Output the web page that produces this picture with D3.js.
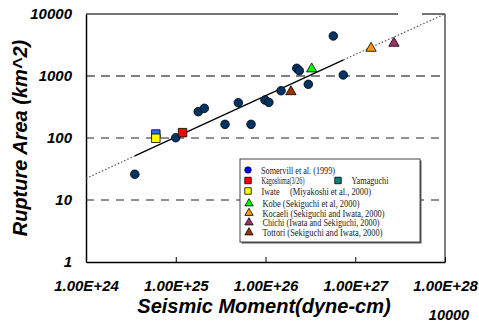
<!DOCTYPE html>
<html>
<head>
<meta charset="utf-8">
<script src="https://cdn.jsdelivr.net/npm/d3@7"></script>
<style>
  body { margin: 0; background: #fff; }
  svg { display: block; }
</style>
</head>
<body>
<div id="wrapper"></div>
<script>
// Somervill et al. (1999) events
const somervillMoment = [3.5e24, 1.0e25, 1.78e25, 2.08e25, 3.54e25, 4.98e25, 6.9e25, 9.87e25,
  1.09e26, 1.49e26, 2.23e26, 2.38e26, 3.0e26, 5.7e26, 7.36e26];
const somervillArea = [26, 101, 266, 301, 166, 371, 166, 410, 376, 579, 1331, 1217, 735, 4420, 1038];

// single events
const eventNames = ["Kagoshima(3/26)", "Yamaguchi", "Iwate\t(Miyakoshi et al., 2000)",
  "Kobe (Sekiguchi et al, 2000)", "Kocaeli (Sekiguchi and Iwata, 2000)",
  "Chichi (Iwata and Sekiguchi, 2000)", "Tottori (Sekiguchi and Iwata, 2000)"];
const eventMoment = [1.19e25, 6.0e24, 6.0e24, 3.27e26, 1.5e27, 2.7e27, 1.92e26];
const eventArea = [122, 116, 99, 1300, 2800, 3370, 558];

// fit line A = 2.23e-15 * M^(2/3)
const fitSolid = [[3.5e24, 51.4], [7.4e26, 1824]];
const fitDotted = [[[1e24, 22.3], [3.5e24, 51.4]], [[7.4e26, 1824], [1e28, 10000]]];

const xTickValues = [1e24, 1e25, 1e26, 1e27, 1e28];
const xTickLabels = ["1.00E+24", "1.00E+25", "1.00E+26", "1.00E+27", "1.00E+28"];
const yTickValues = [1, 10, 100, 1000, 10000];
const yTickLabels = ["1", "10", "100", "1000", "10000"];

const width = 479;
const height = 322;
const plot = { left: 86, right: 445, top: 14, bottom: 262 };

const svg = d3.select("#wrapper")
  .append("svg")
  .attr("width", width)
  .attr("height", height);

const xScale = d3.scaleLog().domain([1e24, 1e28]).range([plot.left, plot.right]);
const yScale = d3.scaleLog().domain([1, 10000]).range([plot.bottom, plot.top]);

// grid
const gridStyle = {
  10: { stroke: "#222", width: 1, dash: "8,7" },
  100: { stroke: "#222", width: 1, dash: "8,7" },
  1000: { stroke: "#808080", width: 2, dash: "9,6" },
};
[10, 100, 1000].forEach(v => {
  svg.append("line")
    .attr("x1", plot.left).attr("x2", plot.right)
    .attr("y1", yScale(v)).attr("y2", yScale(v))
    .attr("stroke", gridStyle[v].stroke)
    .attr("stroke-width", gridStyle[v].width)
    .attr("stroke-dasharray", gridStyle[v].dash);
});
svg.append("line")
  .attr("x1", plot.left).attr("x2", plot.right)
  .attr("y1", yScale(10000)).attr("y2", yScale(10000))
  .attr("stroke", "#444").attr("stroke-width", 1.5)
  .attr("stroke-dasharray", "312,24,40");
svg.append("line")
  .attr("x1", plot.right).attr("x2", plot.right)
  .attr("y1", plot.top).attr("y2", plot.bottom)
  .attr("stroke", "#555").attr("stroke-width", 1.5);

// axes
const xAxis = svg.append("g")
  .attr("transform", `translate(0,${plot.bottom})`)
  .call(d3.axisBottom(xScale)
    .tickValues(xTickValues)
    .tickFormat((d, i) => xTickLabels[i])
    .tickSizeInner(-5).tickSizeOuter(0).tickPadding(18));
xAxis.select(".domain").attr("stroke", "#000").attr("stroke-width", 1.5);
xAxis.selectAll(".tick line").attr("stroke", "#000");

const yAxis = svg.append("g")
  .attr("transform", `translate(${plot.left},0)`)
  .call(d3.axisLeft(yScale)
    .tickValues(yTickValues)
    .tickFormat((d, i) => yTickLabels[i])
    .tickSize(0).tickPadding(14));
yAxis.select(".domain").attr("stroke", "#000").attr("stroke-width", 1.5);

svg.selectAll(".tick text")
  .attr("font-family", "Liberation Sans, Arial, sans-serif")
  .attr("font-size", 15)
  .attr("font-weight", "bold")
  .attr("font-style", "italic")
  .attr("fill", "#000");

// fit line
const line = d3.line().x(d => xScale(d[0])).y(d => yScale(d[1]));
svg.append("path")
  .attr("d", line(fitSolid))
  .attr("fill", "none").attr("stroke", "#000").attr("stroke-width", 1.3);
fitDotted.forEach(seg => {
  svg.append("path")
    .attr("d", line(seg))
    .attr("fill", "none").attr("stroke", "#555").attr("stroke-width", 1.2)
    .attr("stroke-dasharray", "1.5,2");
});

// markers
const eventShape = [d3.symbolSquare, d3.symbolSquare, d3.symbolSquare,
  d3.symbolTriangle, d3.symbolTriangle, d3.symbolTriangle, d3.symbolTriangle];
const eventColor = ["#ff0000", "#3366ff", "#ffff00", "#00ff00", "#ff9900", "#993366", "#993300"];
const legendColor = ["#ff0000", "#008080", "#ffff00", "#00ff00", "#ff9900", "#993366", "#993300"];

svg.append("g")
  .selectAll("circle")
  .data(d3.zip(somervillMoment, somervillArea))
  .join("circle")
  .attr("cx", d => xScale(d[0]))
  .attr("cy", d => yScale(d[1]))
  .attr("r", 4.3)
  .attr("fill", "#003366")
  .attr("stroke", "#000")
  .attr("stroke-width", 0.8);

const drawOrder = [1, 2, 0, 3, 4, 5, 6];
svg.append("g")
  .selectAll("path")
  .data(drawOrder)
  .join("path")
  .attr("transform", i => `translate(${xScale(eventMoment[i])},${yScale(eventArea[i])})`)
  .attr("d", i => d3.symbol(eventShape[i], eventShape[i] === d3.symbolSquare ? 72 : 46)())
  .attr("fill", i => eventColor[i])
  .attr("stroke", "#000")
  .attr("stroke-width", 0.8);

// legend
const legend = svg.append("g");
legend.append("rect")
  .attr("x", 241.5).attr("y", 160.5).attr("width", 180).attr("height", 83)
  .attr("fill", "#555");
legend.append("rect")
  .attr("x", 240).attr("y", 159).attr("width", 180).attr("height", 83)
  .attr("fill", "#fff").attr("stroke", "#444").attr("stroke-width", 1);

const legendFont = "Liberation Serif, Times New Roman, serif";
const textWidth = {
  "Somervill et al. (1999)": 74,
  "Kagoshima(3/26)": 43,
  "Yamaguchi": 37,
  "Iwate": 18,
  "(Miyakoshi et al., 2000)": 81,
  "Kobe (Sekiguchi et al, 2000)": 97,
  "Kocaeli (Sekiguchi and Iwata, 2000)": 122,
  "Chichi (Iwata and Sekiguchi, 2000)": 117,
  "Tottori (Sekiguchi and Iwata, 2000)": 120,
};
function legendText(x, y, str) {
  legend.append("text")
    .attr("x", x).attr("y", y + 3.5)
    .attr("font-family", legendFont)
    .attr("font-size", 10)
    .attr("fill", "#222")
    .attr("textLength", textWidth[str])
    .attr("lengthAdjust", "spacingAndGlyphs")
    .text(str);
}

legend.append("circle")
  .attr("cx", 248).attr("cy", 170).attr("r", 3.3)
  .attr("fill", "#0000ff").attr("stroke", "#000").attr("stroke-width", 0.6);
legendText(261, 170, "Somervill et al. (1999)");

// [column x, row y] for each event in the legend
const legendPos = [[248, 180.5], [338, 180.5], [248, 191], [249, 203.5], [249, 213], [249, 222.5], [249, 232.5]];
eventNames.forEach((name, i) => {
  const [lx, ly] = legendPos[i];
  legend.append("path")
    .attr("transform", `translate(${lx},${ly})`)
    .attr("d", d3.symbol(eventShape[i], eventShape[i] === d3.symbolSquare ? 42 : 30)())
    .attr("fill", legendColor[i])
    .attr("stroke", "#000")
    .attr("stroke-width", 0.8);
  const parts = name.split("\t");
  legendText(lx + 13.5, ly, parts[0]);
  if (parts[1]) legendText(290, ly, parts[1]);
});

// titles
svg.append("text")
  .attr("x", 264).attr("y", 313)
  .attr("text-anchor", "middle")
  .attr("font-family", "Liberation Sans, Arial, sans-serif")
  .attr("font-size", 20).attr("font-weight", "bold").attr("font-style", "italic")
  .text("Seismic Moment(dyne-cm)");

svg.append("text")
  .attr("x", 449).attr("y", 320)
  .attr("text-anchor", "middle")
  .attr("font-family", "Liberation Sans, Arial, sans-serif")
  .attr("font-size", 14.5).attr("font-weight", "bold").attr("font-style", "italic")
  .text("10000");

svg.append("text")
  .attr("transform", "translate(27,138) rotate(-90)")
  .attr("text-anchor", "middle")
  .attr("font-family", "Liberation Sans, Arial, sans-serif")
  .attr("font-size", 20).attr("font-weight", "bold").attr("font-style", "italic")
  .text("Rupture Area (km^2)");
</script>
</body>
</html>
